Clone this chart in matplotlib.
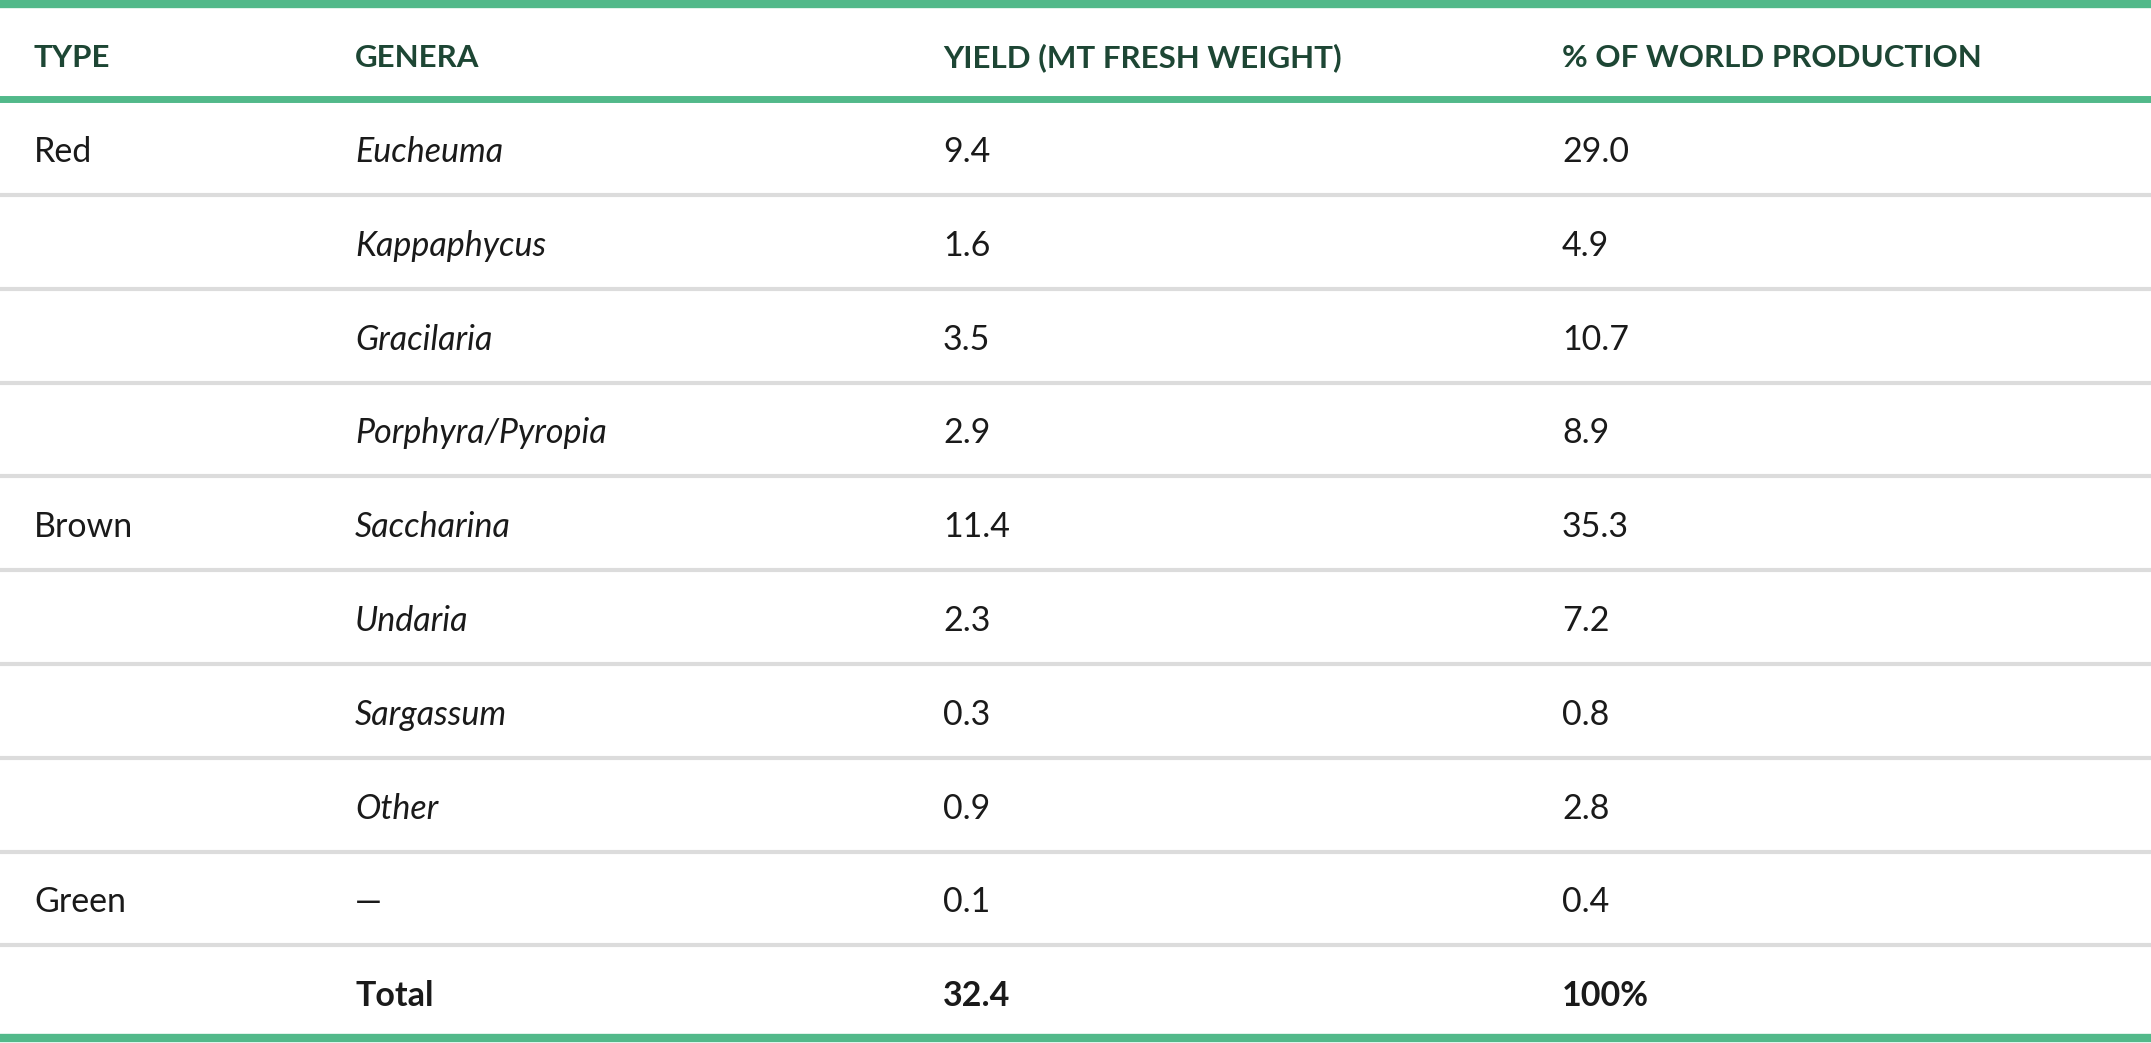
import matplotlib.pyplot as plt

columns = ['TYPE', 'GENERA', 'YIELD (MT FRESH WEIGHT)', '% OF WORLD PRODUCTION']
types = ['Red', '', '', '', 'Brown', '', '', '', 'Green', '']
genera = ['Eucheuma', 'Kappaphycus', 'Gracilaria', 'Porphyra/Pyropia', 'Saccharina',
          'Undaria', 'Sargassum', 'Other', '\u2014', 'Total']
yields = ['9.4', '1.6', '3.5', '2.9', '11.4', '2.3', '0.3', '0.9', '0.1', '32.4']
shares = ['29.0', '4.9', '10.7', '8.9', '35.3', '7.2', '0.8', '2.8', '0.4', '100%']

W, H = 2151, 1043
green = '#52b98a'
dark = '#1d4634'
grey = '#dcdcdc'
txt = '#1a1a1a'

plt.rcParams['font.family'] = ['Lato', 'DejaVu Sans']

fig = plt.figure(figsize=(W / 100, H / 100), dpi=100)
ax = fig.add_axes([0, 0, 1, 1])
ax.set_xlim(0, W)
ax.set_ylim(H, 0)
ax.axis('off')

col_x = [34, 355, 943, 1562]
head_y = 58
row0 = 152
step = 93.8

# rules
ax.axhline(4, color=green, lw=6)
ax.axhline(99, color=green, lw=5)
for i in range(len(genera) - 1):
    ax.axhline(row0 - 2 + i * step + 45, color=grey, lw=3)
ax.axhline(1038, color=green, lw=6)

for x, c in zip(col_x, columns):
    ax.text(x, head_y, c, fontsize=22.5, fontweight='bold', color=dark, va='center')

for i in range(len(genera)):
    y = row0 + i * step
    last = i == len(genera) - 1
    w = 'bold' if last else 'normal'
    ax.text(col_x[0], y, types[i], fontsize=24.5, color=txt, va='center')
    style = 'normal' if (last or genera[i] == '\u2014') else 'italic'
    ax.text(col_x[1], y, genera[i], fontsize=24.5, color=txt, va='center',
            style=style, fontweight=w)
    ax.text(col_x[2], y, yields[i], fontsize=24.5, color=txt, va='center', fontweight=w)
    ax.text(col_x[3], y, shares[i], fontsize=24.5, color=txt, va='center', fontweight=w)

fig.savefig('out.png', dpi=100)
